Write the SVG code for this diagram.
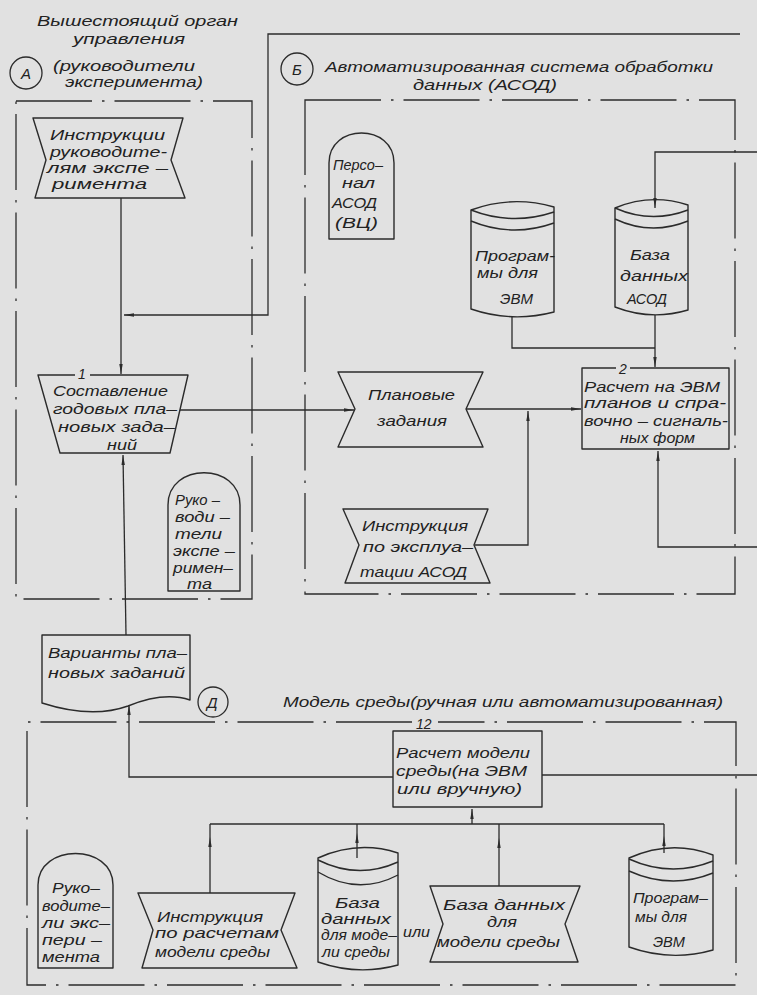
<svg xmlns="http://www.w3.org/2000/svg" width="757" height="995" viewBox="0 0 757 995">
<defs>
<style>
.ln{fill:none;stroke:#2b2b2b;stroke-width:1.3}
.sh{fill:none;stroke:#2b2b2b;stroke-width:1.4;stroke-linejoin:round}
.bd{fill:none;stroke:#2b2b2b;stroke-width:1.3;stroke-dasharray:76 10 2.5 10}
text{font-family:"Liberation Sans","DejaVu Sans",sans-serif;font-style:italic;font-size:15px;fill:#222}
.num{font-size:14px}
.cir{fill:none;stroke:#2b2b2b;stroke-width:1.3}
</style>
<marker id="a" viewBox="0 0 10 4" refX="10" refY="2" markerWidth="10" markerHeight="4" markerUnits="userSpaceOnUse" orient="auto"><path d="M0,0.3 L10,2 L0,3.7 Z" fill="#2b2b2b"/></marker>
</defs>
<rect x="0" y="0" width="757" height="995" fill="#e1e1e1"/>

<g id="regions">
<path class="bd" d="M16,101 H252 V599 H16 Z"/>
<path class="bd" d="M305,100 H735 V594 H305 Z"/>
<path class="bd" d="M412,722 H27 V985 H736 V722 H438"/>
<circle class="cir" cx="26" cy="73" r="16"/>
<text x="21" y="79">А</text>
<circle class="cir" cx="297" cy="69" r="16"/>
<text x="292" y="75">Б</text>
<circle class="cir" cx="213" cy="702" r="15"/>
<text x="207" y="708">Д</text>
<text x="37" y="26" textLength="201" lengthAdjust="spacingAndGlyphs">Вышестоящий орган</text>
<text x="73" y="44" textLength="112" lengthAdjust="spacingAndGlyphs">управления</text>
<text x="53" y="71" textLength="142" lengthAdjust="spacingAndGlyphs">(руководители</text>
<text x="65" y="87" textLength="138" lengthAdjust="spacingAndGlyphs">эксперимента)</text>
<text x="325" y="72" textLength="388" lengthAdjust="spacingAndGlyphs">Автоматизированная система обработки</text>
<text x="413" y="90" textLength="144" lengthAdjust="spacingAndGlyphs">данных (АСОД)</text>
<text x="283" y="707" textLength="440" lengthAdjust="spacingAndGlyphs">Модель среды(ручная или автоматизированная)</text>
</g>

<g id="connectors">
<path class="ln" d="M740,34 H268 V315 H124" marker-end="url(#a)"/>
<path class="ln" d="M121,198 V374" marker-end="url(#a)"/>
<path class="ln" d="M180,410 H354" marker-end="url(#a)"/>
<path class="ln" d="M466,409 H581" marker-end="url(#a)"/>
<path class="ln" d="M475,545 H528 V411" marker-end="url(#a)"/>
<path class="ln" d="M757,152 H655 V208" marker-end="url(#a)"/>
<path class="ln" d="M512,317 V348 H655"/>
<path class="ln" d="M655,315 V367" marker-end="url(#a)"/>
<path class="ln" d="M757,547 H658 V451" marker-end="url(#a)"/>
<path class="ln" d="M126,635 L123,455" marker-end="url(#a)"/>
<path class="ln" d="M393,777 H129 V705" marker-end="url(#a)"/>
<path class="ln" d="M542,775 H757"/>
<path class="ln" d="M210,824 H664"/>
<path class="ln" d="M472,824 V809" marker-end="url(#a)"/>
<path class="ln" d="M210,893 V837 V824" marker-mid="url(#a)"/>
<path class="ln" d="M357,858 V833 V824" marker-mid="url(#a)"/>
<path class="ln" d="M499,886 V838 V824" marker-mid="url(#a)"/>
<path class="ln" d="M664,853 V836 V824" marker-mid="url(#a)"/>
</g>

<g id="n-instr-ruk">
<path class="sh" d="M33,118 H183 L171,160 L185,198 H35 L46,160 Z"/>
<text x="50" y="140" textLength="115" lengthAdjust="spacingAndGlyphs">Инструкции</text>
<text x="50" y="157" textLength="117" lengthAdjust="spacingAndGlyphs">руководите-</text>
<text x="47" y="173" textLength="121" lengthAdjust="spacingAndGlyphs">лям экспе –</text>
<text x="52" y="189" textLength="95" lengthAdjust="spacingAndGlyphs">римента</text>
</g>

<g id="n1">
<path class="sh" d="M90,375 H188 L170,453 H60 L38,375 H75"/>
<text class="num" x="78" y="379">1</text>
<text x="53" y="396" textLength="115" lengthAdjust="spacingAndGlyphs">Составление</text>
<text x="53" y="414" textLength="124" lengthAdjust="spacingAndGlyphs">годовых пла–</text>
<text x="58" y="432" textLength="117" lengthAdjust="spacingAndGlyphs">новых зада–</text>
<text x="107" y="450" textLength="30" lengthAdjust="spacingAndGlyphs">ний</text>
</g>

<g id="n-plan">
<path class="sh" d="M338,372 H483 L466,409 L483,447 H338 L355,409 Z"/>
<text x="368" y="400" textLength="87" lengthAdjust="spacingAndGlyphs">Плановые</text>
<text x="377" y="426" textLength="70" lengthAdjust="spacingAndGlyphs">задания</text>
</g>

<g id="n2">
<path class="sh" d="M630,368 H729 V449 H582 V368 H616"/>
<text class="num" x="619" y="374">2</text>
<text x="584" y="392" textLength="136" lengthAdjust="spacingAndGlyphs">Расчет на ЭВМ</text>
<text x="584" y="408" textLength="142" lengthAdjust="spacingAndGlyphs">планов и спра-</text>
<text x="584" y="426" textLength="144" lengthAdjust="spacingAndGlyphs">вочно – сигналь-</text>
<text x="620" y="443" textLength="75" lengthAdjust="spacingAndGlyphs">ных форм</text>
</g>

<g id="n-prog1">
<path class="sh" d="M471,210 Q512,195 554,207 L554,312 Q512,323 471,309 Z"/>
<path class="sh" d="M471,210 Q512,226 554,212"/>
<path class="sh" d="M471,221 Q512,238 554,223"/>
<text x="475" y="261" textLength="80" lengthAdjust="spacingAndGlyphs">Програм-</text>
<text x="477" y="278" textLength="61" lengthAdjust="spacingAndGlyphs">мы для</text>
<text x="500" y="304" textLength="33" lengthAdjust="spacingAndGlyphs">ЭВМ</text>
</g>

<g id="n-db-asod">
<path class="sh" d="M615,208 Q651,193 688,205 L688,310 Q651,321 615,307 Z"/>
<path class="sh" d="M615,208 Q651,224 688,210"/>
<path class="sh" d="M615,219 Q651,236 688,221"/>
<text x="630" y="260" textLength="40" lengthAdjust="spacingAndGlyphs">База</text>
<text x="620" y="281" textLength="68" lengthAdjust="spacingAndGlyphs">данных</text>
<text x="627" y="304" textLength="40" lengthAdjust="spacingAndGlyphs">АСОД</text>
</g>

<g id="n-personal">
<path class="sh" d="M329,239 V163 C329,123 394,123 394,163 V239 Z"/>
<text x="333" y="170" textLength="50" lengthAdjust="spacingAndGlyphs">Персо–</text>
<text x="342" y="188" textLength="33" lengthAdjust="spacingAndGlyphs">нал</text>
<text x="332" y="208" textLength="45" lengthAdjust="spacingAndGlyphs">АСОД</text>
<text x="335" y="228" textLength="43" lengthAdjust="spacingAndGlyphs">(ВЦ)</text>
</g>

<g id="n-ruk-a">
<path class="sh" d="M168,591 V505 C168,462 240,462 240,505 V591 Z"/>
<text x="175" y="505" textLength="45" lengthAdjust="spacingAndGlyphs">Руко –</text>
<text x="175" y="522" textLength="55" lengthAdjust="spacingAndGlyphs">води –</text>
<text x="175" y="539" textLength="47" lengthAdjust="spacingAndGlyphs">тели</text>
<text x="173" y="556" textLength="62" lengthAdjust="spacingAndGlyphs">экспе –</text>
<text x="173" y="573" textLength="60" lengthAdjust="spacingAndGlyphs">римен–</text>
<text x="187" y="589" textLength="25" lengthAdjust="spacingAndGlyphs">та</text>
</g>

<g id="n-instr-asod">
<path class="sh" d="M343,509 H488 L474,545 L490,583 H345 L359,545 Z"/>
<text x="362" y="531" textLength="106" lengthAdjust="spacingAndGlyphs">Инструкция</text>
<text x="363" y="552" textLength="110" lengthAdjust="spacingAndGlyphs">по эксплуа–</text>
<text x="360" y="577" textLength="107" lengthAdjust="spacingAndGlyphs">тации АСОД</text>
</g>

<g id="n-variants">
<path class="sh" d="M42,635 H190 V700 C172,694 150,697 128,706 C100,716 70,712 42,703 Z"/>
<text x="48" y="658" textLength="139" lengthAdjust="spacingAndGlyphs">Варианты пла–</text>
<text x="48" y="678" textLength="137" lengthAdjust="spacingAndGlyphs">новых заданий</text>
</g>

<g id="n12">
<path class="sh" d="M393,731 H542 V807 H393 Z"/>
<text class="num" x="416" y="729">12</text>
<text x="396" y="758" textLength="134" lengthAdjust="spacingAndGlyphs">Расчет модели</text>
<text x="396" y="776" textLength="131" lengthAdjust="spacingAndGlyphs">среды(на ЭВМ</text>
<text x="397" y="794" textLength="125" lengthAdjust="spacingAndGlyphs">или вручную)</text>
</g>

<g id="n-ruk-d">
<path class="sh" d="M38,968 V885 C38,843 113,843 113,885 V968 Z"/>
<text x="52" y="893" textLength="48" lengthAdjust="spacingAndGlyphs">Руко–</text>
<text x="42" y="911" textLength="68" lengthAdjust="spacingAndGlyphs">водите–</text>
<text x="42" y="928" textLength="68" lengthAdjust="spacingAndGlyphs">ли экс–</text>
<text x="42" y="945" textLength="60" lengthAdjust="spacingAndGlyphs">пери –</text>
<text x="42" y="962" textLength="58" lengthAdjust="spacingAndGlyphs">мента</text>
</g>

<g id="n-instr-calc">
<path class="sh" d="M138,893 H295 L281,930 L297,968 H142 L153,930 Z"/>
<text x="157" y="922" textLength="106" lengthAdjust="spacingAndGlyphs">Инструкция</text>
<text x="155" y="938" textLength="124" lengthAdjust="spacingAndGlyphs">по расчетам</text>
<text x="155" y="957" textLength="115" lengthAdjust="spacingAndGlyphs">модели среды</text>
</g>

<g id="n-db-model">
<path class="sh" d="M318,858 Q358,840 398,853 L398,965 Q358,976 318,962 Z"/>
<path class="sh" d="M318,860 Q358,880 398,862"/>
<path class="sh" d="M318,872 Q358,896 398,875"/>
<text x="335" y="908" textLength="45" lengthAdjust="spacingAndGlyphs">База</text>
<text x="321" y="924" textLength="70" lengthAdjust="spacingAndGlyphs">данных</text>
<text x="321" y="940" textLength="76" lengthAdjust="spacingAndGlyphs">для моде–</text>
<text x="322" y="957" textLength="68" lengthAdjust="spacingAndGlyphs">ли среды</text>
</g>

<g id="t-or">
<text x="403" y="937" textLength="27" lengthAdjust="spacingAndGlyphs">или</text>
</g>

<g id="n-db-model2">
<path class="sh" d="M430,886 H580 L565,924 L578,962 H430 L443,924 Z"/>
<text x="443" y="910" textLength="122" lengthAdjust="spacingAndGlyphs">База данных</text>
<text x="487" y="927" textLength="30" lengthAdjust="spacingAndGlyphs">для</text>
<text x="437" y="947" textLength="123" lengthAdjust="spacingAndGlyphs">модели среды</text>
</g>

<g id="n-prog2">
<path class="sh" d="M629,858 Q671,839 713,855 L713,950 Q671,962 629,947 Z"/>
<path class="sh" d="M629,859 Q671,878 713,861"/>
<path class="sh" d="M629,871 Q671,890 713,873"/>
<text x="633" y="903" textLength="75" lengthAdjust="spacingAndGlyphs">Програм–</text>
<text x="635" y="922" textLength="52" lengthAdjust="spacingAndGlyphs">мы для</text>
<text x="653" y="947" textLength="32" lengthAdjust="spacingAndGlyphs">ЭВМ</text>
</g>
</svg>
